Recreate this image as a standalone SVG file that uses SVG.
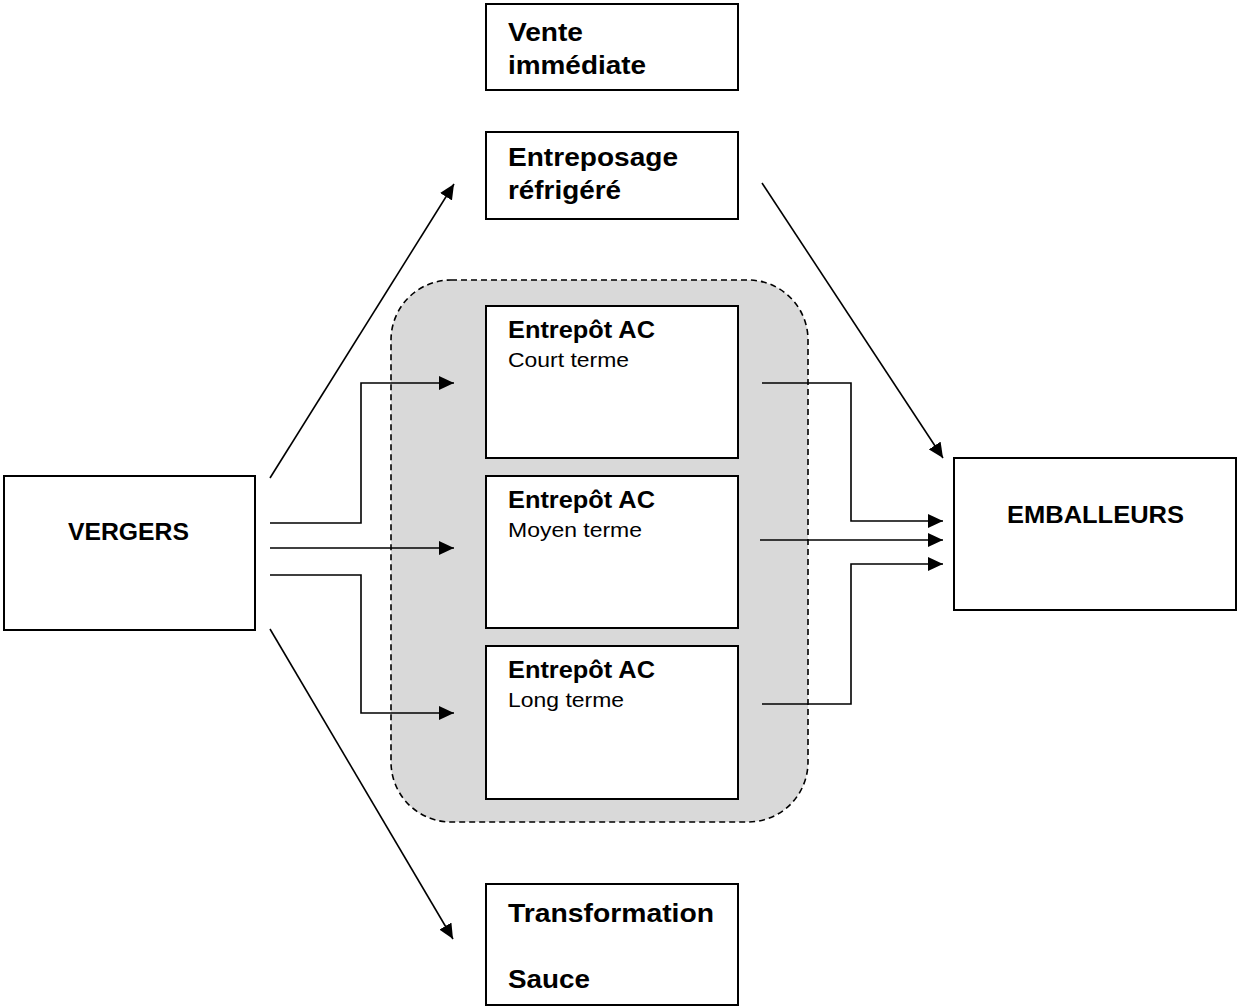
<svg xmlns="http://www.w3.org/2000/svg" width="1237" height="1007" viewBox="0 0 1237 1007">
<style>
.box{fill:#fff;stroke:#000;stroke-width:2}
.t{font-family:"Liberation Sans",Arial,sans-serif;fill:#000}
.b{font-weight:bold}
.c{fill:none;stroke:#000;stroke-width:1.6}
</style>
<defs>
<marker id="ah" markerUnits="userSpaceOnUse" markerWidth="16" markerHeight="14" refX="15" refY="7" orient="auto">
<path d="M0,0 L15,7 L0,14 z" fill="#000"/>
</marker>
</defs>
<rect width="1237" height="1007" fill="#fff"/>
<g id="ac-group">
<rect x="391" y="280" width="417" height="542" rx="60" ry="60" fill="#d9d9d9" stroke="#000" stroke-width="1.6" stroke-dasharray="6,4"/>
</g>
<g id="vente">
<rect class="box" x="486" y="4" width="252" height="86"/>
<text class="t b" x="508" y="41" font-size="26" textLength="75" lengthAdjust="spacingAndGlyphs">Vente</text>
<text class="t b" x="508" y="74" font-size="26" textLength="138" lengthAdjust="spacingAndGlyphs">immédiate</text>
</g>
<g id="entreposage">
<rect class="box" x="486" y="132" width="252" height="87"/>
<text class="t b" x="508" y="166" font-size="26" textLength="170" lengthAdjust="spacingAndGlyphs">Entreposage</text>
<text class="t b" x="508" y="199" font-size="26" textLength="113" lengthAdjust="spacingAndGlyphs">réfrigéré</text>
</g>
<g id="court">
<rect class="box" x="486" y="306" width="252" height="152"/>
<text class="t b" x="508" y="338" font-size="23.5" textLength="147" lengthAdjust="spacingAndGlyphs">Entrepôt AC</text>
<text class="t" x="508" y="367" font-size="21" textLength="121" lengthAdjust="spacingAndGlyphs">Court terme</text>
</g>
<g id="moyen">
<rect class="box" x="486" y="476" width="252" height="152"/>
<text class="t b" x="508" y="508" font-size="23.5" textLength="147" lengthAdjust="spacingAndGlyphs">Entrepôt AC</text>
<text class="t" x="508" y="537" font-size="21" textLength="134" lengthAdjust="spacingAndGlyphs">Moyen terme</text>
</g>
<g id="long">
<rect class="box" x="486" y="646" width="252" height="153"/>
<text class="t b" x="508" y="678" font-size="23.5" textLength="147" lengthAdjust="spacingAndGlyphs">Entrepôt AC</text>
<text class="t" x="508" y="707" font-size="21" textLength="116" lengthAdjust="spacingAndGlyphs">Long terme</text>
</g>
<g id="transformation">
<rect class="box" x="486" y="884" width="252" height="121"/>
<text class="t b" x="508" y="922" font-size="26" textLength="206" lengthAdjust="spacingAndGlyphs">Transformation</text>
<text class="t b" x="508" y="988" font-size="26" textLength="82" lengthAdjust="spacingAndGlyphs">Sauce</text>
</g>
<g id="vergers">
<rect class="box" x="4" y="476" width="251" height="154"/>
<text class="t b" x="68" y="540" font-size="23" textLength="121" lengthAdjust="spacingAndGlyphs">VERGERS</text>
</g>
<g id="emballeurs">
<rect class="box" x="954" y="458" width="282" height="152"/>
<text class="t b" x="1007" y="523" font-size="24" textLength="177" lengthAdjust="spacingAndGlyphs">EMBALLEURS</text>
</g>
<g id="connectors">
<line class="c" x1="270" y1="478" x2="454" y2="184" marker-end="url(#ah)"/>
<line class="c" x1="762" y1="183" x2="943" y2="458" marker-end="url(#ah)"/>
<line class="c" x1="270" y1="629" x2="453" y2="939" marker-end="url(#ah)"/>
<polyline class="c" points="270,523 361,523 361,383 454,383" marker-end="url(#ah)"/>
<line class="c" x1="270" y1="548" x2="454" y2="548" marker-end="url(#ah)"/>
<polyline class="c" points="270,575 361,575 361,713 454,713" marker-end="url(#ah)"/>
<polyline class="c" points="762,383 851,383 851,521 943,521" marker-end="url(#ah)"/>
<line class="c" x1="760" y1="540" x2="943" y2="540" marker-end="url(#ah)"/>
<polyline class="c" points="762,704 851,704 851,564 943,564" marker-end="url(#ah)"/>
</g>
</svg>
